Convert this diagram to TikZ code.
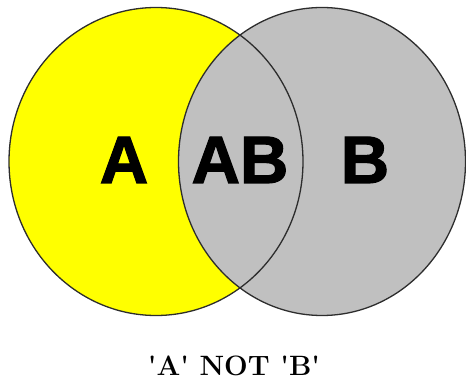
\documentclass[tikz,border=0pt]{standalone}
\usepackage{fontspec}
\newfontfamily\bigsans[FakeBold=1.8]{Liberation Sans Bold}
\definecolor{venny}{RGB}{255,255,0}
\definecolor{venng}{RGB}{192,192,192}
\definecolor{vennline}{RGB}{45,45,45}
\begin{document}
\begin{tikzpicture}[x=1pt,y=-1pt,
  setlabel/.style={font=\bigsans\fontsize{67}{67}\selectfont, inner sep=0pt, anchor=base},
  outline/.style={draw=vennline, line width=1.3pt}]
\useasboundingbox (0,0) rectangle (466,379);
\fill[venny] (156,161.5) ellipse [x radius=147, y radius=154];
\fill[venng] (322,161.5) ellipse [x radius=143.5, y radius=154];
\draw[outline] (156,161.5) ellipse [x radius=147, y radius=154];
\draw[outline] (322,161.5) ellipse [x radius=143.5, y radius=154];
\node[setlabel] (a) at (124,183) {A};
\node[setlabel] (ab) at (240,183) {AB};
\node[setlabel] (b) at (365,183) {B};
\node[inner sep=0pt, anchor=base, font=\bfseries\fontsize{28}{28}\selectfont] (cap) at (234,375) {\textquotesingle A\textquotesingle{} NOT \textquotesingle B\textquotesingle};
\end{tikzpicture}
\end{document}
